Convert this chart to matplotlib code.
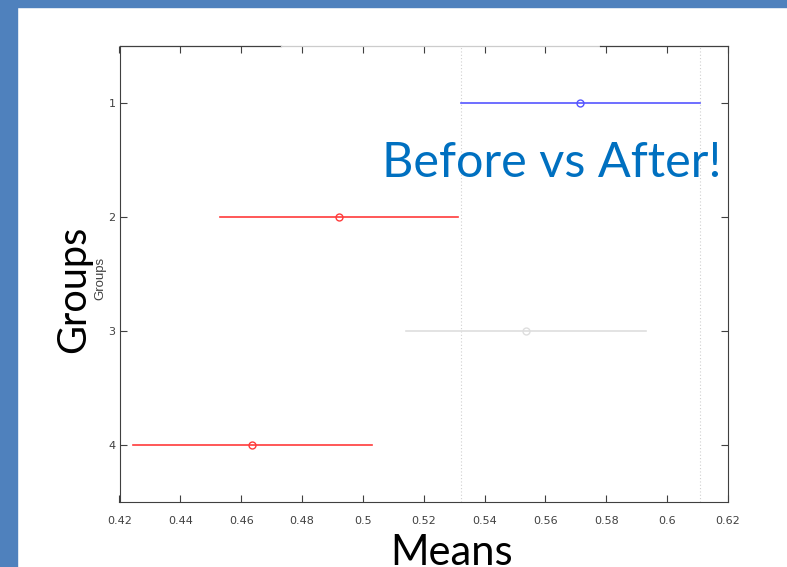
import matplotlib.pyplot as plt
from matplotlib.patches import Rectangle

# group means and comparison interval half-widths
groups = [1, 2, 3, 4]
means = [0.5715, 0.4921, 0.5536, 0.4636]
half_width = [0.0393, 0.0392, 0.0394, 0.0393]
colors = ["#5555ff", "#ff3b3b", "#dedede", "#ff3b3b"]
xticks = [0.42, 0.44, 0.46, 0.48, 0.5, 0.52, 0.54, 0.56, 0.58, 0.6, 0.62]
xtick_labels = ["0.42", "0.44", "0.46", "0.48", "0.5", "0.52", "0.54", "0.56", "0.58", "0.6", "0.62"]

fig = plt.figure(figsize=(7.87, 5.67), dpi=100)

# slide frame
fig.patches.append(Rectangle((0, 0), 17 / 787, 1, transform=fig.transFigure, color="#4f81bd", zorder=0))
fig.patches.append(Rectangle((0, 1 - 7 / 567), 1, 7 / 567, transform=fig.transFigure, color="#4f81bd", zorder=0))

ax = fig.add_axes([119.5 / 787, 1 - 502 / 567, 608.5 / 787, 456 / 567])

# reference lines at the bounds of group 1
lo, hi = means[0] - half_width[0], means[0] + half_width[0]
for v in (lo, hi):
    ax.axvline(v, color="#d0d0d0", lw=0.8, ls=(0, (1, 2)))

for g, m, h, c in zip(groups, means, half_width, colors):
    ax.plot([m - h, m + h], [g, g], color=c, lw=1.2)
    ax.plot(m, g, marker="o", mfc="none", mec=c, ms=5, mew=1)

ax.set_xlim(0.42, 0.62)
ax.set_ylim(4.5, 0.5)
ax.set_xticks(xticks)
ax.set_xticklabels(xtick_labels)
ax.set_yticks(groups)
ax.tick_params(direction="in", top=True, right=True, length=5, width=0.8,
               color="#404040", labelcolor="#404040", labelsize=8)
ax.tick_params(axis="x", pad=10)
ax.tick_params(axis="y", pad=3)

for s in ("left", "bottom", "right"):
    ax.spines[s].set_color("#404040")
    ax.spines[s].set_linewidth(0.8)
# top edge: partly faded
ax.spines["top"].set_visible(False)
ax.plot([0, 0.265], [1, 1], transform=ax.transAxes, color="#404040", lw=0.9, clip_on=False)
ax.plot([0.265, 0.79], [1, 1], transform=ax.transAxes, color="#cccccc", lw=0.9, clip_on=False)
ax.plot([0.79, 1], [1, 1], transform=ax.transAxes, color="#404040", lw=0.9, clip_on=False)

ax.set_ylabel("Groups", fontsize=9.5, color="#404040",
              family=["Liberation Sans", "DejaVu Sans"])
ax.yaxis.set_label_coords(-13.5 / 608.5, 0.49)

# slide annotations
fig.text(552 / 787, 1 - 163 / 567, "Before vs After!", color="#0070c0", fontsize=35,
         family="Lato", ha="center", va="center")
fig.text(74 / 787, 1 - 289 / 567, "Groups", color="black", fontsize=28.5,
         family="Lato", rotation=90, ha="center", va="center")
fig.text(452 / 787, 1 - 553 / 567, "Means", color="black", fontsize=30,
         family="Lato", ha="center", va="center")

fig.savefig("out.png", dpi=100)
